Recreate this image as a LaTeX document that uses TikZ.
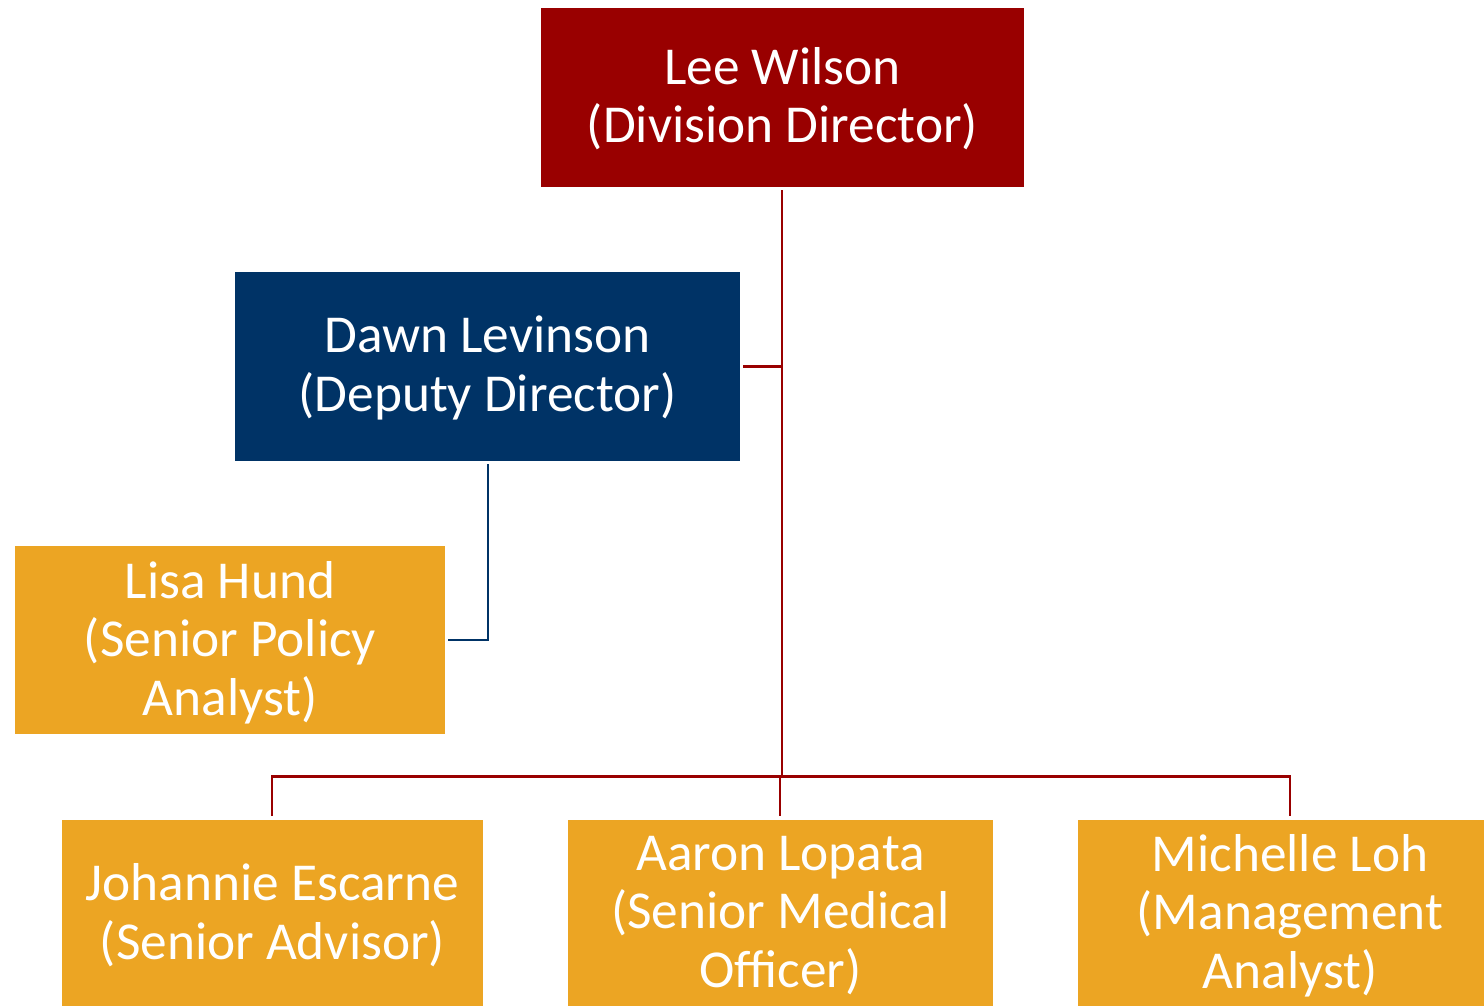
\documentclass[tikz,border=0pt]{standalone}
\usepackage{fontspec}
\setmainfont{Carlito}
\definecolor{dred}{HTML}{990000}
\definecolor{navy}{HTML}{003366}
\definecolor{gold}{HTML}{ECA523}
\begin{document}
\begin{tikzpicture}[x=0.75pt,y=-0.75pt,
  lbl/.style={text=white,align=center,inner sep=0pt,font=\fontsize{40}{43.8}\selectfont},
  rline/.style={draw=dred,line width=2pt},
  nline/.style={draw=navy,line width=2pt}]
\useasboundingbox (0,0) rectangle (1484,1006);
% boxes
\path[fill=dred] (541,8) rectangle (1024,187);
\node[lbl] (lee) at (782.5,98.5) {Lee Wilson\\(Division Director)};
\path[fill=navy] (235,272) rectangle (740,461);
\node[lbl] (dawn) at (487.5,368) {Dawn Levinson\\(Deputy Director)};
\path[fill=gold] (15,546) rectangle (445,734);
\node[lbl] (lisa) at (230,642.5) {Lisa Hund\\(Senior Policy\\Analyst)};
\path[fill=gold] (62,820) rectangle (483,1006);
\node[lbl] (joh) at (272.5,915) {Johannie Escarne\\(Senior Advisor)};
\path[fill=gold] (568,820) rectangle (993,1006);
\node[lbl] (aar) at (780.5,915.5) {Aaron Lopata\\(Senior Medical\\Officer)};
\path[fill=gold] (1078,820) rectangle (1484,1006);
\node[lbl] (mic) at (1290,915.5) {Michelle Loh\\(Management\\Analyst)};
% coordinates
\coordinate (leeb) at (782,190);
\coordinate (hub) at (782,776.5);
\coordinate (dawnr) at (743,366.5);
\coordinate (dawnj) at (782,366.5);
\coordinate (dawnb) at (488,464);
\coordinate (lisar) at (448,640);
\coordinate (hl) at (272,776.5);
\coordinate (hr) at (1290,776.5);
\coordinate (hm) at (780,776.5);
\coordinate (jt) at (272,816);
\coordinate (at) at (780,816);
\coordinate (mt) at (1290,816);
% connectors
\draw[rline] (leeb) -- (hub);
\draw[rline] (dawnr) -- (dawnj);
\draw[rline] (jt) -- (hl) -- (hr) -- (mt);
\draw[rline] (hm) -- (at);
\draw[nline] (dawnb) |- (lisar);
\end{tikzpicture}
\end{document}
